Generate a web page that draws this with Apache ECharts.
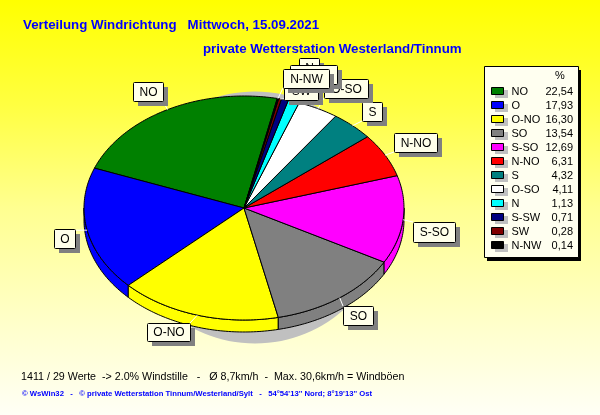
<!DOCTYPE html>
<html><head><meta charset="utf-8">
<style>html,body{margin:0;padding:0;background:#fff}#c{width:600px;height:415px}</style>
<script src="https://cdn.jsdelivr.net/npm/echarts@6/dist/echarts.min.js"></script>
</head><body><div id="c"></div>
<script>
const categories=['NO','O','O-NO','SO','S-SO','N-NO','S','O-SO','N','S-SW','SW','N-NW'];
const percents=[22.54,17.93,16.30,13.54,12.69,6.31,4.32,4.11,1.13,0.71,0.28,0.14];
const percentLabels=['22,54','17,93','16,30','13,54','12,69','6,31','4,32','4,11','1,13','0,71','0,28','0,14'];
const colors=['#008000','#0000ff','#ffff00','#808080','#ff00ff','#ff0000','#008080','#ffffff','#00ffff','#000080','#800000','#000000'];
const titleLine1='Verteilung Windrichtung   Mittwoch, 15.09.2021';
const titleLine2='private Wetterstation Westerland/Tinnum';
const footerLine1='1411 / 29 Werte  -> 2.0% Windstille   -   Ø 8,7km/h  -  Max. 30,6km/h = Windböen';
const footerLine2='© WsWin32   -   © private Wetterstation Tinnum/Westerland/Sylt   -   54°54\'13\'\' Nord; 8°19\'13\'\' Ost';

// layout
const CX=244,CY=208,RX=160,RY=112,DEPTH=12,START=78;
const boxes=[[133,82,30,19],[54,229,21,19],[147,323,43,18],[343,306,30,19],[413,222,42,20],[394,133,43,19],
             [362,102,20,19],[324,79,44,19],[299,58,20,19],[290,65,47,19],[284,81,34,19],[283,69,46,19]];
const FONT='"Liberation Sans",Arial,sans-serif';
const total=percents.reduce((a,b)=>a+b,0);
const startOf=i=>START+percents.slice(0,i).reduce((a,b)=>a+b,0)/total*360;
const pt=(deg,dy)=>{const r=deg*Math.PI/180;return [CX+RX*Math.cos(r),CY+(dy||0)-RY*Math.sin(r)];};
function arc(a,b){const n=Math.max(2,Math.ceil((b-a)/1)),p=[];for(let k=0;k<=n;k++)p.push(a+(b-a)*k/n);return p;}

function renderSlice(params,api){
  const i=api.value(1),a=startOf(i),b=a+api.value(0)/total*360;
  const col=colors[i],children=[];
  for(const base of [180,540]){
    const s=Math.max(a,base),e=Math.min(b,base+180);
    if(e>s){
      const angs=arc(s,e);
      const pts=angs.map(d=>pt(d,0)).concat(angs.slice().reverse().map(d=>pt(d,DEPTH)));
      children.push({type:'polygon',shape:{points:pts},style:{fill:col,stroke:'#000',lineWidth:1}});
    }
  }
  const pts=[[CX,CY]].concat(arc(a,b).map(d=>pt(d,0)));
  children.push({type:'polygon',shape:{points:pts},style:{fill:col,stroke:'#000',lineWidth:1,lineJoin:'round'}});
  return {type:'group',children};
}
function renderLabel(params,api){
  const i=api.value(1),a=startOf(i),b=a+api.value(0)/total*360,m=(a+b)/2;
  const [x,y,w,h]=boxes[i];
  const e=pt(m,0);
  const tx=Math.max(x,Math.min(x+w,e[0])),ty=Math.max(y,Math.min(y+h,e[1]));
  return {type:'group',children:[
    {type:'line',shape:{x1:e[0],y1:e[1],x2:tx,y2:ty},style:{stroke:'#fff',lineWidth:1}},
    {type:'rect',shape:{x:x+5,y:y+5,width:w,height:h},style:{fill:'#808080'}},
    {type:'rect',shape:{x:x+.5,y:y+.5,width:w,height:h,r:1},style:{fill:'#ffffea',stroke:'#000',lineWidth:1}},
    {type:'text',style:{x:x+w/2+.5,y:y+h/2+1,text:categories[i],fill:'#000',font:'12px '+FONT,align:'center',verticalAlign:'middle'}}
  ]};
}
const txt=(x,y,text,font,fill,align)=>({type:'text',z:1,x:x,y:y,style:{text,font:font+' '+FONT,fill,align:align||'left',verticalAlign:'middle'}});
const LX=484,LY=66,LW=94,LH=191;
const legendEls=[
  {type:'rect',z:1,shape:{x:LX+3,y:LY+4,width:LW,height:LH},style:{fill:'#000'}},
  {type:'rect',z:1,shape:{x:LX+.5,y:LY+.5,width:LW,height:LH},style:{fill:'#fffff0',stroke:'#000',lineWidth:1}},
  txt(560,76,'%','11px','#000','center')
];
categories.forEach((c,i)=>{
  const y=92+i*14;
  legendEls.push({type:'rect',z:1,shape:{x:495,y:y-2,width:13,height:8},style:{fill:'#c0c0c0'}});
  legendEls.push({type:'rect',z:1,shape:{x:491.5,y:y-4.5,width:12,height:7},style:{fill:colors[i],stroke:'#000',lineWidth:1}});
  legendEls.push(txt(511.5,y,c,'11px','#000'));
  legendEls.push(txt(573,y,percentLabels[i],'11px','#000','right'));
});
const chart=echarts.init(document.getElementById('c'),null,{renderer:'canvas',width:600,height:415});
chart.setOption({
  animation:false,
  backgroundColor:{type:'linear',x:0,y:0,x2:0,y2:1,colorStops:[
    {offset:0,color:'#ffff00'},{offset:.25,color:'#ffff40'},{offset:.5,color:'#ffff90'},{offset:.75,color:'#ffffc4'},{offset:1,color:'#fffff6'}]},
  graphic:{elements:[
    {type:'ellipse',z:1,shape:{cx:255,cy:217.5,rx:130,ry:126},style:{fill:'#c0c0c0'}},
    txt(23,25,titleLine1,'bold 13.3px','#0000ff'),
    txt(203,49,titleLine2,'bold 13.3px','#0000ff'),
    txt(21,377,footerLine1,'10.7px','#000'),
    txt(22,394,footerLine2,'bold 7.7px','#0000ff'),
    ...legendEls
  ]},
  series:[
    {type:'custom',coordinateSystem:'none',z:2,silent:true,encode:{value:0},renderItem:renderSlice,
     data:percents.map((v,i)=>({value:[v,i],name:categories[i]}))},
    {type:'custom',coordinateSystem:'none',z:3,silent:true,encode:{value:0},renderItem:renderLabel,
     data:percents.map((v,i)=>({value:[v,i],name:categories[i]}))}
  ]
});
</script></body></html>
